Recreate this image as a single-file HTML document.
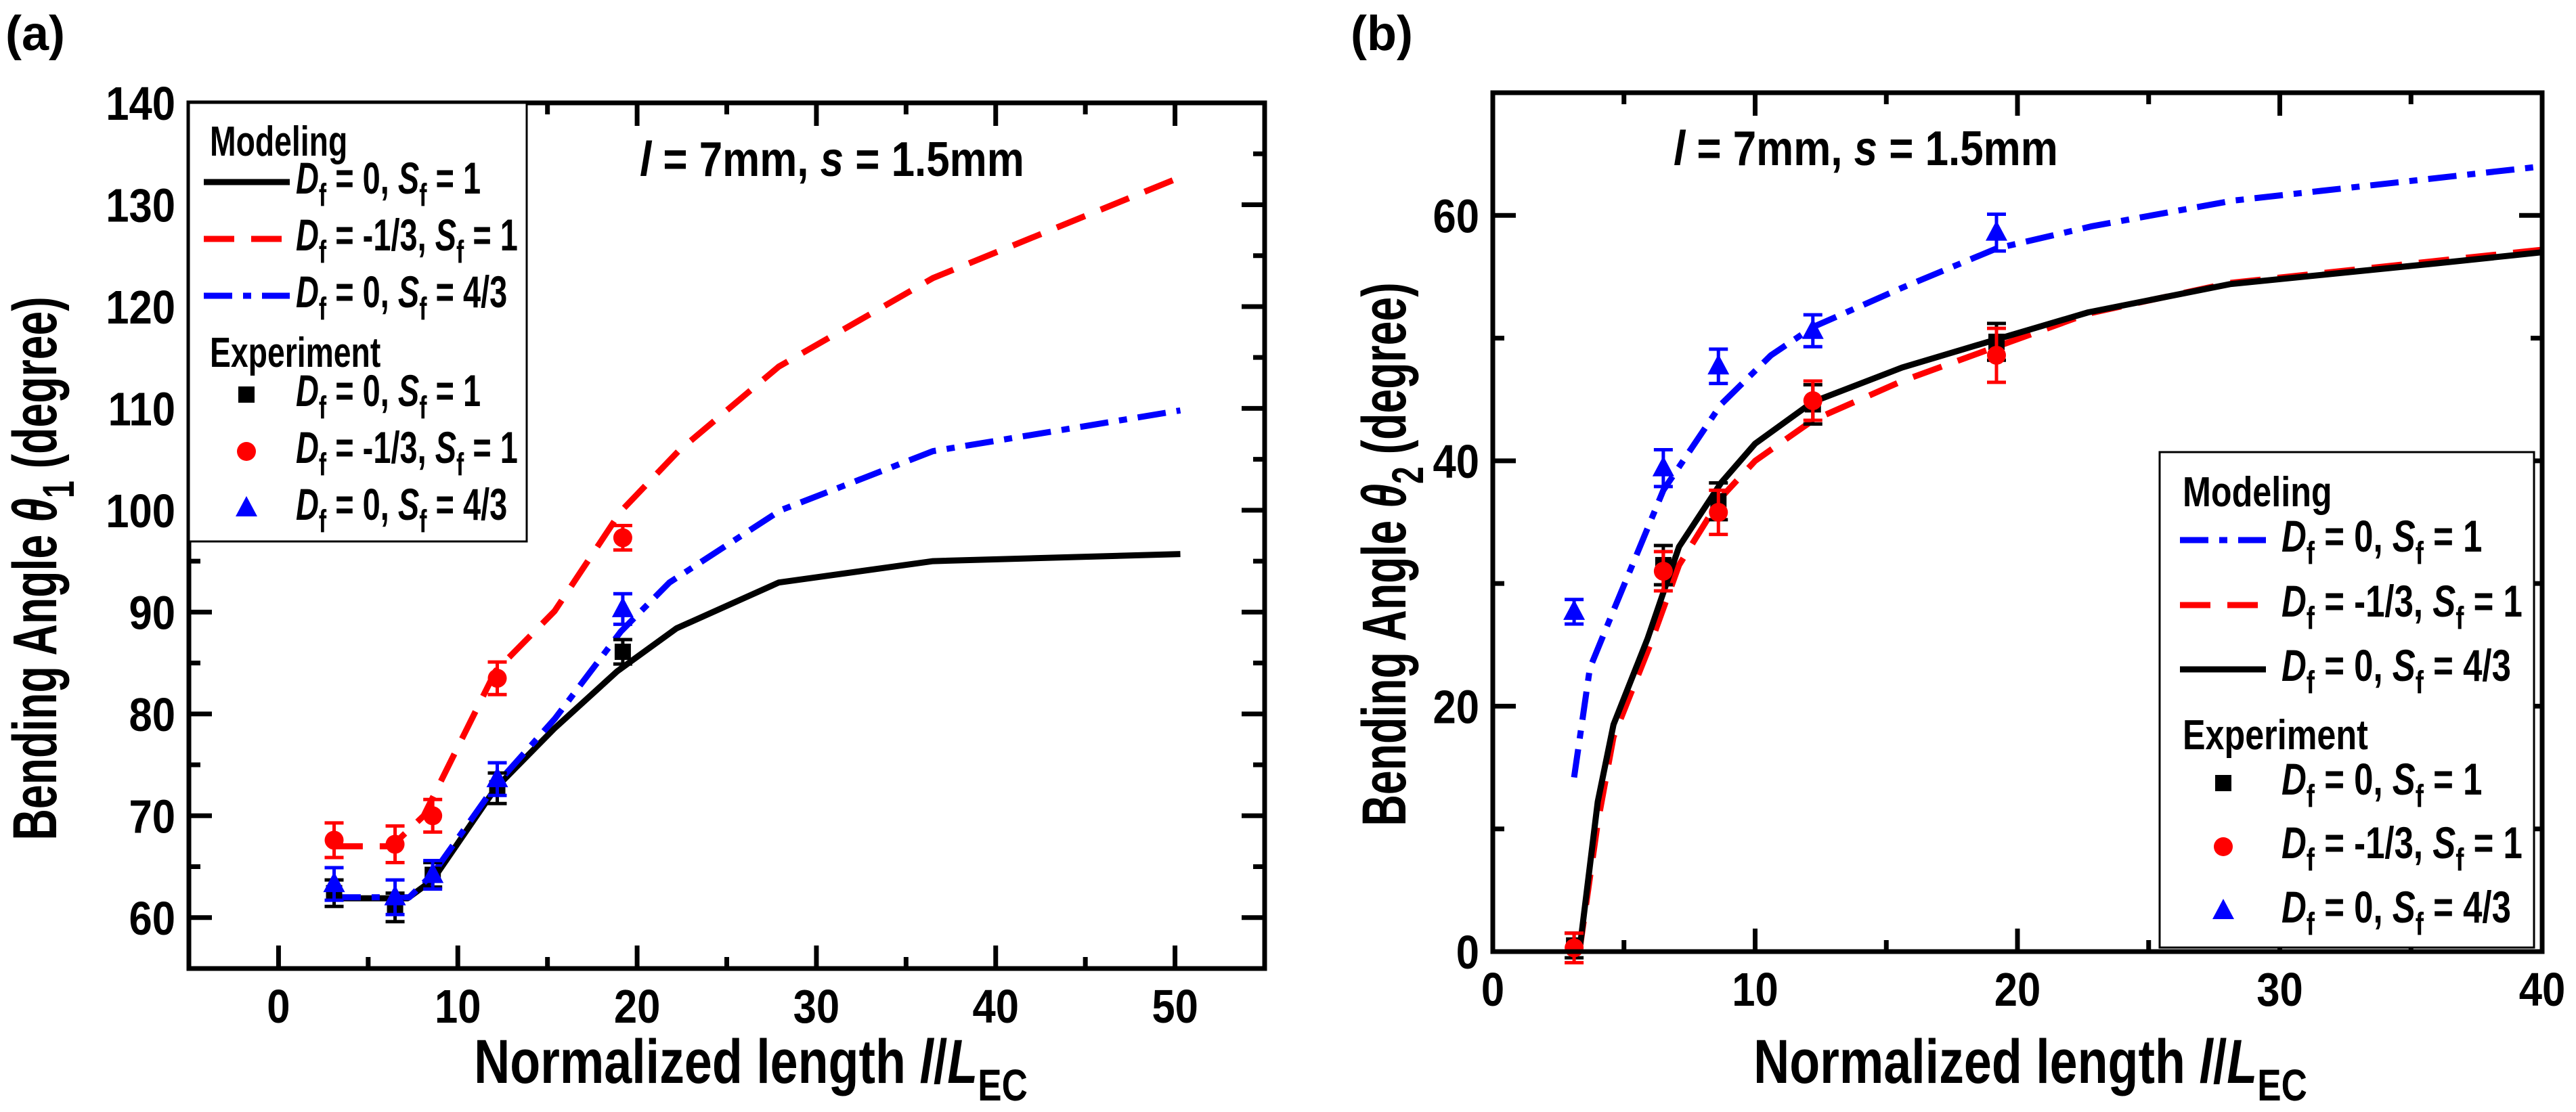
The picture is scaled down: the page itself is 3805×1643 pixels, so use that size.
<!DOCTYPE html>
<html><head><meta charset="utf-8">
<style>
html,body{margin:0;padding:0;background:#fff;}
svg{display:block;}
text{font-family:"Liberation Sans",sans-serif;font-weight:bold;}
</style></head>
<body>
<svg id="fig" width="3805" height="1643" viewBox="0 0 3805 1643" xmlns="http://www.w3.org/2000/svg">
<g id="pa"></g>
<g id="pb"></g>
</svg>
<script>
// Panel A data
const aModelBlackX = [3.0, 7.2, 8.6, 12.1, 15.4, 18.9, 22.2, 27.9, 36.5, 50.3];
const aModelBlackY = [61.9, 61.9, 63.7, 72.7, 78.6, 84.2, 88.4, 92.9, 95.0, 95.7];
const aModelRedX = [3.0, 6.3, 8.1, 12.1, 15.4, 19.1, 22.3, 27.9, 36.5, 50.3];
const aModelRedY = [67.0, 67.0, 70.0, 84.2, 90.1, 99.9, 105.8, 114.1, 122.8, 132.7];
const aModelBlueX = [3.0, 7.3, 8.6, 12.1, 15.4, 19.1, 21.8, 28.0, 36.5, 50.3];
const aModelBlueY = [62.0, 62.0, 64.3, 73.0, 79.5, 88.1, 92.9, 100.0, 105.8, 109.8];
const aExpX = [3.1, 6.5, 8.6, 12.2, 19.2];
const aExpBlack = [62.4, 61.0, 64.2, 72.7, 86.1];
const aExpBlackErr = [1.3, 1.4, 1.2, 1.5, 1.2];
const aExpRed = [67.6, 67.2, 70.0, 83.5, 97.3];
const aExpRedErr = [1.7, 1.8, 1.6, 1.6, 1.2];
const aExpBlue = [63.3, 62.0, 64.2, 73.6, 90.3];
const aExpBlueErr = [1.6, 1.7, 1.4, 1.6, 1.5];
const aXTicks = [0, 10, 20, 30, 40, 50];
const aYTicks = [60, 70, 80, 90, 100, 110, 120, 130, 140];

// Panel B data
const bModelBlueX = [3.1, 3.7, 4.6, 6.5, 8.7, 10.6, 12.2, 15.6, 19.2, 22.8, 28.2, 40];
const bModelBlueY = [14.2, 23.1, 27.8, 37.6, 44.6, 48.6, 50.9, 54.1, 57.3, 59.1, 61.2, 64.0];
const bModelBlackX = [3.3, 4.0, 4.6, 5.9, 7.1, 8.7, 10, 12.2, 15.6, 19.2, 22.7, 28.1, 36, 40];
const bModelBlackY = [0, 12.2, 18.5, 25.5, 33.0, 38.2, 41.4, 44.8, 47.6, 49.9, 52.1, 54.4, 56.1, 57.0];
const bModelRedX = [3.3, 4.0, 4.6, 6.0, 7.1, 8.7, 10, 12.2, 15.6, 19.2, 22.7, 28.1, 36, 40];
const bModelRedY = [0, 10.5, 17.5, 25.0, 31.5, 37.0, 40.0, 43.3, 46.5, 49.3, 52.0, 54.5, 56.3, 57.2];
const bExpX = [3.1, 6.5, 8.6, 12.2, 19.2];
const bExpBlack = [0.5, 31.5, 36.7, 44.6, 49.7];
const bExpBlackErr = [1.0, 1.6, 1.5, 1.6, 1.5];
const bExpRed = [0.3, 31.0, 35.8, 44.9, 48.6];
const bExpRedErr = [1.2, 1.6, 1.8, 1.6, 2.2];
const bExpBlue = [27.7, 39.4, 47.7, 50.6, 58.6];
const bExpBlueErr = [1.0, 1.5, 1.4, 1.3, 1.5];
const bXTicks = [0, 10, 20, 30, 40];
const bYTicks = [0, 20, 40, 60];

const NS = "http://www.w3.org/2000/svg";
function mk(parent, tag, attrs) {
  const e = document.createElementNS(NS, tag);
  for (const k in attrs) e.setAttribute(k, attrs[k]);
  parent.appendChild(e);
  return e;
}
const RED = "#ff0000", BLUE = "#0000ff", BLACK = "#000";
const DASH = "45 25", DASHDOT = "42 16 12 16";

function axis(g, P) {
  const sx = v => P.l + (v - P.x0) / (P.x1 - P.x0) * (P.r - P.l);
  const sy = v => P.b - (v - P.y0) / (P.y1 - P.y0) * (P.b - P.t);
  for (let v = Math.ceil(P.x0 / P.xm) * P.xm; v <= P.x1 + 1e-9; v += P.xm) {
    const major = Math.abs(v / P.xM - Math.round(v / P.xM)) < 1e-6;
    const L = major ? 34 : 17;
    const t1 = mk(g, "line", {x1: sx(v), x2: sx(v), y1: P.b, y2: P.b - L, stroke: BLACK, "stroke-width": 7});
    
    
    const t2 = mk(g, "line", {x1: sx(v), x2: sx(v), y1: P.t, y2: P.t + L, stroke: BLACK, "stroke-width": 7});
    
    
  }
  for (let v = Math.ceil(P.y0 / P.ym) * P.ym; v <= P.y1 + 1e-9; v += P.ym) {
    const major = Math.abs(v / P.yM - Math.round(v / P.yM)) < 1e-6;
    const L = major ? 34 : 17;
    const t1 = mk(g, "line", {x1: P.l, x2: P.l + L, y1: sy(v), y2: sy(v), stroke: BLACK, "stroke-width": 7});
    
    
    const t2 = mk(g, "line", {x1: P.r, x2: P.r - L, y1: sy(v), y2: sy(v), stroke: BLACK, "stroke-width": 7});
    
    
  }
  P.xt.forEach(v => {
    const t = mk(g, "text", {x: 0, y: 0, "text-anchor": "middle", "font-size": 70, transform: `translate(${sx(v)},${P.b + 80}) scale(0.88,1)`});
    t.textContent = v;
    
    
  });
  P.yt.forEach(v => {
    const t = mk(g, "text", {x: 0, y: 0, "text-anchor": "end", "font-size": 70, transform: `translate(${P.l - 20},${sy(v) + 25}) scale(0.88,1)`});
    t.textContent = v;
    
    
  });
  return {sx, sy};
}
function curve(g, S, xs, ys, color, dash, name) {
  const p = xs.map((x, i) => S.sx(x).toFixed(1) + "," + S.sy(ys[i]).toFixed(1)).join(" ");
  const e = mk(g, "polyline", {points: p, fill: "none", stroke: color, "stroke-width": 9, "stroke-linejoin": "round"});
  if (dash) e.setAttribute("stroke-dasharray", dash);
  
  
}
function marker(g, x, y, kind, color) {
  let e;
  if (kind === "sq") e = mk(g, "rect", {x: x - 12, y: y - 12, width: 24, height: 24, fill: color});
  else if (kind === "ci") e = mk(g, "circle", {cx: x, cy: y, r: 14, fill: color});
  else e = mk(g, "polygon", {points: `${x},${y - 18} ${x - 16},${y + 12} ${x + 16},${y + 12}`, fill: color});
  return e;
}
function points(g, S, xs, ys, errs, kind, color, name) {
  xs.forEach((x, i) => {
    const X = S.sx(x), y1 = S.sy(ys[i] + errs[i]), y2 = S.sy(ys[i] - errs[i]);
    const eb = mk(g, "path", {d: `M${X - 14},${y1}H${X + 14}M${X},${y1}V${y2}M${X - 14},${y2}H${X + 14}`, stroke: color, "stroke-width": 5, fill: "none"});
    
    
    const m = marker(g, X, S.sy(ys[i]), kind, color);
    
    
  });
}
function label(g, x, y, parts, size, name, sc, rot) {
  const t = mk(g, "text", {x: 0, y: 0, "font-size": size,
    transform: `translate(${x},${y})` + (rot ? ` rotate(${rot})` : "") + ` scale(${sc || 1},1)`});
  
  
  parts.forEach(p => {
    const s = mk(t, "tspan", {});
    if (p.i) s.setAttribute("font-style", "italic");
    if (p.sub) { s.setAttribute("dy", size * 0.28); s.setAttribute("font-size", size * 0.72); }
    if (p.up) { s.setAttribute("dy", -size * 0.28); }
    s.textContent = p.t;
  });
  return t;
}
function dfParts(df, sf) {
  return [{t: "D", i: 1}, {t: "f", sub: 1}, {t: " = " + df + ", ", up: 1}, {t: "S", i: 1}, {t: "f", sub: 1}, {t: " = " + sf, up: 1}];
}
// scale so that the "-1/3, 1" entry has the reference width
function legendScale(g, size, target) {
  const t = label(g, -5000, -5000, dfParts("-1/3", "1"), size, "measure", 1);
  let w = 0;
  try { w = t.getBBox().width; } catch (e) {}
  g.removeChild(t);
  return w > 0 ? target / w : 0.6;
}
function dfLabel(g, x, y, df, sf, name, sc) {
  return label(g, x, y, dfParts(df, sf), 66, name, sc);
}
function legendLine(g, x, y, color, dash, name) {
  const e = mk(g, "line", {x1: x, x2: x + 127, y1: y, y2: y, stroke: color, "stroke-width": 9});
  if (dash) e.setAttribute("stroke-dasharray", dash);
  
  
}

// ---------- Panel A ----------
(function () {
  const g = document.getElementById("pa");
  const P = {l: 279, r: 1868, t: 152, b: 1431, x0: -5, x1: 55, y0: 55, y1: 140, xm: 5, xM: 10, ym: 5, yM: 10, xt: aXTicks, yt: aYTicks};
  const S = axis(g, P);
  curve(g, S, aModelBlackX, aModelBlackY, BLACK, null, "model-black-line");
  curve(g, S, aModelRedX, aModelRedY, RED, DASH, "model-red-line");
  curve(g, S, aModelBlueX, aModelBlueY, BLUE, DASHDOT, "model-blue-line");
  points(g, S, aExpX, aExpBlack, aExpBlackErr, "sq", BLACK, "exp-black");
  points(g, S, aExpX, aExpRed, aExpRedErr, "ci", RED, "exp-red");
  points(g, S, aExpX, aExpBlue, aExpBlueErr, "tr", BLUE, "exp-blue");
  const fr = mk(g, "rect", {x: P.l, y: P.t, width: P.r - P.l, height: P.b - P.t, fill: "none", stroke: BLACK, "stroke-width": 7});
  
  
  const lg = mk(g, "g", {});
  
  
  const lb = mk(lg, "rect", {x: 279, y: 152, width: 499, height: 648, fill: "#fff", stroke: BLACK, "stroke-width": 3});
  
  
  const sc = legendScale(lg, 66, 328);
  label(lg, 310, 230, [{t: "Modeling"}], 62, "legend-title-modeling", sc * 1.05);
  legendLine(lg, 301, 269, BLACK, null, "legend-line-black");
  dfLabel(lg, 437, 286, "0", "1", "legend-entry-model-black", sc);
  legendLine(lg, 301, 353, RED, DASH, "legend-line-red");
  dfLabel(lg, 437, 370, "-1/3", "1", "legend-entry-model-red", sc);
  legendLine(lg, 301, 437, BLUE, DASHDOT, "legend-line-blue");
  dfLabel(lg, 437, 454, "0", "4/3", "legend-entry-model-blue", sc);
  label(lg, 310, 542, [{t: "Experiment"}], 62, "legend-title-experiment", sc * 1.05);
  let m = marker(lg, 364, 583, "sq", BLACK);  
  dfLabel(lg, 437, 600, "0", "1", "legend-entry-exp-black", sc);
  m = marker(lg, 364, 667, "ci", RED);  
  dfLabel(lg, 437, 684, "-1/3", "1", "legend-entry-exp-red", sc);
  m = marker(lg, 364, 751, "tr", BLUE);  
  dfLabel(lg, 437, 768, "0", "4/3", "legend-entry-exp-blue", sc);
  label(g, 945, 260, [{t: "l", i: 1}, {t: " = 7mm, "}, {t: "s", i: 1}, {t: " = 1.5mm"}], 72, "annotation-a", 0.86);
  label(g, 8, 74, [{t: "(a)"}], 72, "panel-label-a");
  const yl = label(g, 83, 840, [{t: "Bending Angle "}, {t: "θ", i: 1}, {t: "1", sub: 1}, {t: " (degree)", up: 1}], 92, "y-axis-title-a", 0.7, -90);
  yl.setAttribute("text-anchor", "middle");
  const xl = label(g, 1109, 1600, [{t: "Normalized length "}, {t: "l", i: 1}, {t: "/"}, {t: "L", i: 1}, {t: "EC", sub: 1}], 92, "x-axis-title-a", 0.8);
  xl.setAttribute("text-anchor", "middle");
})();

// ---------- Panel B ----------
(function () {
  const g = document.getElementById("pb");
  const P = {l: 2205, r: 3755, t: 137, b: 1406, x0: 0, x1: 40, y0: 0, y1: 70, xm: 5, xM: 10, ym: 10, yM: 20, xt: bXTicks, yt: bYTicks};
  const S = axis(g, P);
  curve(g, S, bModelRedX, bModelRedY, RED, DASH, "model-red-line");
  curve(g, S, bModelBlackX, bModelBlackY, BLACK, null, "model-black-line");
  curve(g, S, bModelBlueX, bModelBlueY, BLUE, DASHDOT, "model-blue-line");
  points(g, S, bExpX, bExpBlack, bExpBlackErr, "sq", BLACK, "exp-black");
  points(g, S, bExpX, bExpRed, bExpRedErr, "ci", RED, "exp-red");
  points(g, S, bExpX, bExpBlue, bExpBlueErr, "tr", BLUE, "exp-blue");
  const fr = mk(g, "rect", {x: P.l, y: P.t, width: P.r - P.l, height: P.b - P.t, fill: "none", stroke: BLACK, "stroke-width": 7});
  
  
  const lg = mk(g, "g", {});
  
  
  const lb = mk(lg, "rect", {x: 3190, y: 668, width: 553, height: 732, fill: "#fff", stroke: BLACK, "stroke-width": 3});
  
  
  const sc = legendScale(lg, 66, 356);
  label(lg, 3224, 748, [{t: "Modeling"}], 62, "legend-title-modeling", sc * 1.05);
  legendLine(lg, 3220, 798, BLUE, DASHDOT, "legend-line-blue");
  dfLabel(lg, 3370, 815, "0", "1", "legend-entry-model-blue", sc);
  legendLine(lg, 3220, 894, RED, DASH, "legend-line-red");
  dfLabel(lg, 3370, 911, "-1/3", "1", "legend-entry-model-red", sc);
  legendLine(lg, 3220, 989, BLACK, null, "legend-line-black");
  dfLabel(lg, 3370, 1006, "0", "4/3", "legend-entry-model-black", sc);
  label(lg, 3224, 1107, [{t: "Experiment"}], 62, "legend-title-experiment", sc * 1.05);
  let m = marker(lg, 3284, 1157, "sq", BLACK);  
  dfLabel(lg, 3370, 1174, "0", "1", "legend-entry-exp-black", sc);
  m = marker(lg, 3284, 1251, "ci", RED);  
  dfLabel(lg, 3370, 1268, "-1/3", "1", "legend-entry-exp-red", sc);
  m = marker(lg, 3284, 1346, "tr", BLUE);  
  dfLabel(lg, 3370, 1363, "0", "4/3", "legend-entry-exp-blue", sc);
  label(g, 2472, 244, [{t: "l", i: 1}, {t: " = 7mm, "}, {t: "s", i: 1}, {t: " = 1.5mm"}], 72, "annotation-b", 0.86);
  label(g, 1995, 74, [{t: "(b)"}], 72, "panel-label-b");
  const yl = label(g, 2076, 819, [{t: "Bending Angle "}, {t: "θ", i: 1}, {t: "2", sub: 1}, {t: " (degree)", up: 1}], 92, "y-axis-title-b", 0.7, -90);
  yl.setAttribute("text-anchor", "middle");
  const xl = label(g, 2999, 1600, [{t: "Normalized length "}, {t: "l", i: 1}, {t: "/"}, {t: "L", i: 1}, {t: "EC", sub: 1}], 92, "x-axis-title-b", 0.8);
  xl.setAttribute("text-anchor", "middle");
})();
</script>
</body></html>
